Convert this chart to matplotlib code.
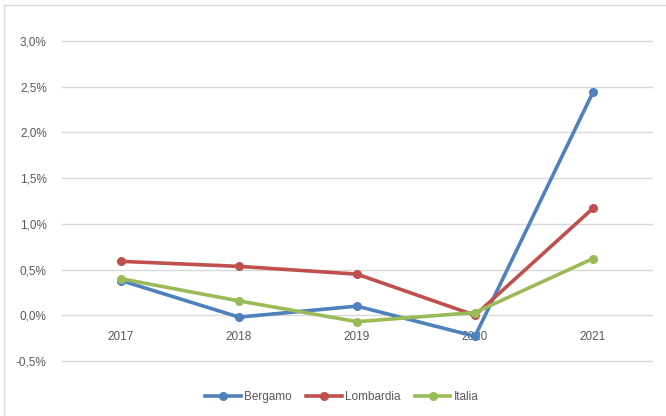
import matplotlib.pyplot as plt
from matplotlib.lines import Line2D
from matplotlib.ticker import FuncFormatter

# dati
anni = ["2017", "2018", "2019", "2020", "2021"]
bergamo = [0.38, -0.02, 0.10, -0.23, 2.44]
lombardia = [0.59, 0.535, 0.45, 0.0, 1.17]
italia = [0.40, 0.157, -0.07, 0.03, 0.62]

serie = [("Bergamo", bergamo, "#4F81BD"),
         ("Lombardia", lombardia, "#C0504D"),
         ("Italia", italia, "#9BBB59")]

plt.rcParams['font.family'] = ['Liberation Sans', 'DejaVu Sans']

fig = plt.figure(figsize=(6.66, 4.16), dpi=100)
ax = fig.add_axes([62 / 666, 1 - 361 / 416, 590 / 666, 320 / 416])

x = list(range(len(anni)))
for nome, valori, colore in serie:
    ax.plot(x, valori, color=colore, lw=2.6, marker='o', ms=5.5,
            solid_capstyle='round', label=nome, zorder=3)

ax.set_xlim(-0.5, len(anni) - 0.5)
ax.set_ylim(-0.5, 3.0)
ax.set_yticks([-0.5, 0, 0.5, 1.0, 1.5, 2.0, 2.5, 3.0])
ax.yaxis.set_major_formatter(FuncFormatter(lambda v, p: f"{v:.1f}%".replace(".", ",")))
ax.grid(axis='y', color='#D9D9D9', lw=1.0)
ax.set_axisbelow(True)
for g in ax.get_ygridlines():
    g.set_clip_on(False)

for s in ax.spines.values():
    s.set_visible(False)
ax.spines['bottom'].set_position(('data', 0))

ax.set_xticks(x)
ax.set_xticklabels(anni)
ax.tick_params(axis='both', length=0, labelsize=8.5, labelcolor='#595959')
ax.tick_params(axis='x', pad=11)
ax.tick_params(axis='y', pad=11)

handles = [Line2D([0], [0], color=c, lw=2.6, marker='o', ms=5.5) for _, _, c in serie]
fig.legend(handles, [s[0] for s in serie], loc='center', bbox_to_anchor=(342 / 666, 1 - 397 / 416),
           ncol=3, frameon=False, fontsize=8.5, handlelength=3.0, handletextpad=0.3,
           columnspacing=1.2, labelcolor='#595959')

# bordo del grafico
fig.add_artist(Line2D([4 / 666, 1], [1 - 5 / 416, 1 - 5 / 416], color='#D9D9D9', lw=1))
fig.add_artist(Line2D([4 / 666, 4 / 666], [0, 1 - 5 / 416], color='#D9D9D9', lw=1))

fig.savefig("out.png", dpi=100)
